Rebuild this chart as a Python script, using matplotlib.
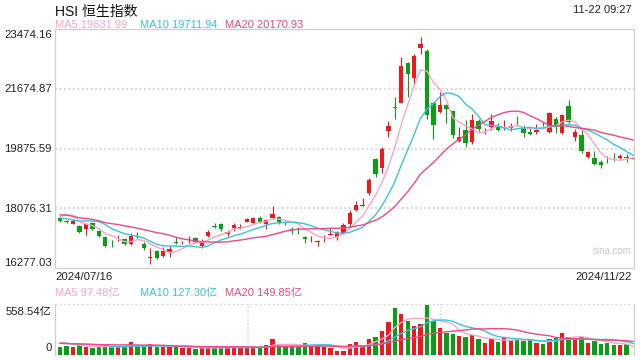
import matplotlib
matplotlib.use('Agg')
import matplotlib.pyplot as plt
import numpy as np

plt.rcParams['font.family'] = ['Liberation Sans', 'Noto Sans CJK SC']

# 日K数据 (2024/07/16 - 2024/11/22), 近似值
open_ = [17782, 17680, 17601, 17541, 17451, 17631, 17390, 17210, 17040, 17140,
         17149, 16998, 17280, 16998, 16590, 16788, 16637, 16757, 17040, 17050,
         17080, 17179, 16938, 17240, 17520, 17601, 17300, 17481, 17475, 17662,
         17631, 17782, 17601, 17782, 17812, 17640, 17430, 17430, 17210, 17140,
         17055, 17140, 17285, 17210, 17330, 17601, 18024, 18150, 18535, 19559,
         19288, 20402, 21140, 21246, 22450, 21999, 22902, 22812, 21246, 20975,
         21185, 21005, 20101, 20433, 20071, 20704, 20395, 20523, 20523, 20510,
         20493, 20680, 20523, 20372, 20372, 20590, 20372, 20764, 20342, 21155,
         20222, 20282, 19620, 19589, 19469, 19570, 19630, 19589, 19600, 19560]
high = [17812, 17720, 17752, 17560, 17630, 17650, 17410, 17230, 17119, 17270,
        17170, 17330, 17360, 17059, 16878, 16810, 16908, 16938, 17210, 17100,
        17240, 17210, 17149, 17421, 17631, 17620, 17421, 17631, 17601, 17790,
        17812, 17843, 17752, 18144, 17830, 17692, 17511, 17511, 17230, 17240,
        17119, 17270, 17481, 17380, 17631, 18024, 18295, 18385, 18987, 19580,
        19921, 20704, 21426, 22631, 22480, 22721, 23233, 22872, 21270, 21577,
        21210, 21035, 20523, 20734, 20914, 20760, 20493, 20914, 20643, 20734,
        20643, 20854, 20583, 20493, 20613, 20674, 20975, 20824, 20914, 21336,
        20463, 20463, 19800, 19800, 19529, 19650, 19740, 19710, 19710, 19590]
low = [17662, 17630, 17590, 17320, 17270, 17420, 17220, 16910, 16908, 17100,
       16970, 16968, 17180, 16819, 16396, 16550, 16620, 16607, 17010, 17010,
       17040, 17040, 16878, 17220, 17490, 17390, 17240, 17390, 17451, 17650,
       17610, 17631, 17451, 17760, 17601, 17571, 17300, 17300, 17029, 17059,
       16938, 17059, 17270, 17119, 17300, 17511, 17994, 18144, 18475, 19018,
       19138, 20222, 20764, 21246, 21426, 21788, 22721, 20764, 20161, 20945,
       20643, 20192, 20071, 19921, 20011, 20400, 20312, 20433, 20402, 20433,
       20402, 20553, 20222, 20282, 20312, 20553, 20342, 20342, 20312, 20643,
       20101, 19740, 19589, 19379, 19288, 19440, 19500, 19559, 19469, 19550]
close = [17692, 17665, 17692, 17360, 17601, 17451, 17240, 16938, 17020, 17160,
         16998, 17240, 17260, 16878, 16610, 16576, 16788, 16848, 17025, 17065,
         17095, 17059, 17029, 17360, 17505, 17451, 17360, 17571, 17490, 17752,
         17782, 17662, 17722, 17903, 17662, 17625, 17415, 17410, 17149, 17160,
         17070, 17160, 17300, 17360, 17571, 17933, 18174, 18174, 18927, 19108,
         19860, 20553, 21110, 22360, 22119, 22661, 23022, 20884, 20583, 21185,
         21065, 20282, 20222, 20041, 20734, 20463, 20410, 20704, 20433, 20530,
         20553, 20665, 20342, 20312, 20433, 20575, 20945, 20553, 20884, 20674,
         20372, 19800, 19770, 19409, 19379, 19550, 19610, 19650, 19585, 19575]
# 成交量 (亿)
volume = [91, 102, 91, 110, 91, 80, 91, 91, 91, 91,
          91, 146, 91, 91, 120, 91, 91, 91, 91, 80,
          80, 66, 80, 80, 80, 80, 80, 99, 80, 80,
          80, 80, 110, 175, 120, 91, 91, 91, 135, 110,
          110, 91, 80, 48, 48, 120, 146, 91, 175, 197,
          263, 361, 515, 449, 372, 318, 339, 548, 376, 296,
          245, 230, 208, 197, 219, 175, 131, 179, 142, 190,
          161, 172, 153, 161, 131, 120, 175, 190, 241, 197,
          179, 197, 131, 153, 120, 135, 110, 110, 120, 3]
# 区间之前的19个交易日, 只用于计算均线
prior_close = [17880, 18395, 18300, 17993, 17992, 18037, 18054, 17681, 17683, 17734,
               17944, 17993, 17764, 17489, 17488, 17436, 17797, 18258, 17980]
prior_vol = [150, 160, 140, 135, 120, 130, 125, 110, 115, 100,
             120, 130, 125, 120, 105, 115, 160, 170, 140]

ma_periods = [5, 10, 20]
ma_colors = ['#f7a6c6', '#3dc2dd', '#ec4a82']
ma_text = ['19631.99', '19711.94', '20170.93']      # 图上的均线数值
vma_text = ['97.48', '127.30', '149.85']
price_ticks = ['23474.16', '21674.87', '19875.59', '18076.31', '16277.03']
first_date, last_date = '2024/07/16', '2024/11/22'
stamp = '11-22 09:27'
y_min, y_max = 16277.03, 23474.16
vol_max = 558.54

red = '#f01818'
green = '#0a9e14'
grid_c = '#dcdcdc'
frame_c = '#cfcfcf'


def moving_avg(prior, values, n):
    s = np.array(prior + values, dtype=float)
    out = np.convolve(s, np.ones(n) / n, mode='valid')
    return out[-len(values):]


n = len(close)
x = np.arange(n)
o = np.array(open_, float)
c = np.array(close, float)
up = c >= o
cols = np.where(up, red, green)

fig = plt.figure(figsize=(6.4, 3.6), dpi=100)
ax = fig.add_axes([55 / 640, 1 - 268 / 360, 579 / 640, 239 / 360])
axv = fig.add_axes([55 / 640, 1 - 355 / 360, 579 / 640, 51 / 360])

# K线
ax.vlines(x, low, high, colors=cols, lw=0.8, zorder=2)
body_h = np.maximum(np.abs(c - o), 22)
ax.bar(x, body_h, bottom=np.minimum(o, c), width=0.68, color=cols, lw=0, zorder=3)

for p, col in zip(ma_periods, ma_colors):
    m = moving_avg(prior_close, close, p)
    ax.plot(x, m, color=col, lw=1.0, zorder=4)

ax.set_xlim(-0.8, n - 0.85)
ax.set_ylim(y_min, y_max)
ticks = np.linspace(y_min, y_max, 5)
for t in ticks[1:-1]:
    ax.axhline(t, color=grid_c, lw=1.6, dashes=(1, 1), zorder=1)
ax.set_xticks([])
ax.set_yticks([])
for s in ax.spines.values():
    s.set_color(frame_c)
    s.set_linewidth(0.9)

# y轴标签 (顶部和底部的标签向内偏移)
lab_kw = dict(fontsize=8.2, color='#222222', ha='right', va='center')
label_y = [35, 89, 148.5, 208.5, 263]
for txt, yy in zip(price_ticks, label_y):
    fig.text(52 / 640, 1 - yy / 360, txt, **lab_kw)

fig.text(55 / 640, 1 - 12 / 360, 'HSI 恒生指数', fontsize=10, color='#111111', va='center')
fig.text(632 / 640, 1 - 10 / 360, stamp, fontsize=8, color='#222222', ha='right', va='center')
for i, (p, col) in enumerate(zip(ma_periods, ma_colors)):
    fig.text((55 + 85 * i) / 640, 1 - 25 / 360, f'MA{p} {ma_text[i]}',
             fontsize=8, color=col, va='center')

fig.text(55 / 640, 1 - 277 / 360, first_date, fontsize=8.2, color='#222222', va='center')
fig.text(632 / 640, 1 - 277 / 360, last_date, fontsize=8.2, color='#222222', ha='right', va='center')
ax.text(0.995, 0.07, 'sina.com', transform=ax.transAxes, fontsize=7, color='#c8c8c8',
        ha='right', va='center')

# 成交量
axv.bar(x, volume, width=0.68, color=cols, lw=0, zorder=3)
for p, col in zip(ma_periods, ma_colors):
    m = moving_avg(prior_vol, volume, p)
    axv.plot(x, m, color=col, lw=1.0, zorder=4)
axv.set_xlim(-0.8, n - 0.85)
axv.set_ylim(0, vol_max)
axv.set_xticks([])
axv.set_yticks([])
for side in ['left', 'right']:
    axv.spines[side].set_color(frame_c)
    axv.spines[side].set_linewidth(0.9)
for side in ['top', 'bottom']:
    axv.spines[side].set_visible(False)
axv.axhline(vol_max, color=grid_c, lw=1.6, dashes=(1, 1), zorder=1)
axv.axhline(0, color=grid_c, lw=1.6, dashes=(1, 1), zorder=1)
for fx in [1 / 3, 2 / 3]:
    axv.axvline(-0.8 + fx * (n - 0.05), color=grid_c, lw=1.2, dashes=(1, 1), zorder=1)

for i, (p, col) in enumerate(zip(ma_periods, ma_colors)):
    fig.text((55 + 85 * i) / 640, 1 - 293 / 360, f'MA{p} {vma_text[i]}亿',
             fontsize=8, color=col, va='center')
fig.text(52 / 640, 1 - 312 / 360, f'{vol_max:.2f}亿', **lab_kw)
fig.text(52 / 640, 1 - 348 / 360, '0', **lab_kw)

fig.savefig('out.png', dpi=100)
